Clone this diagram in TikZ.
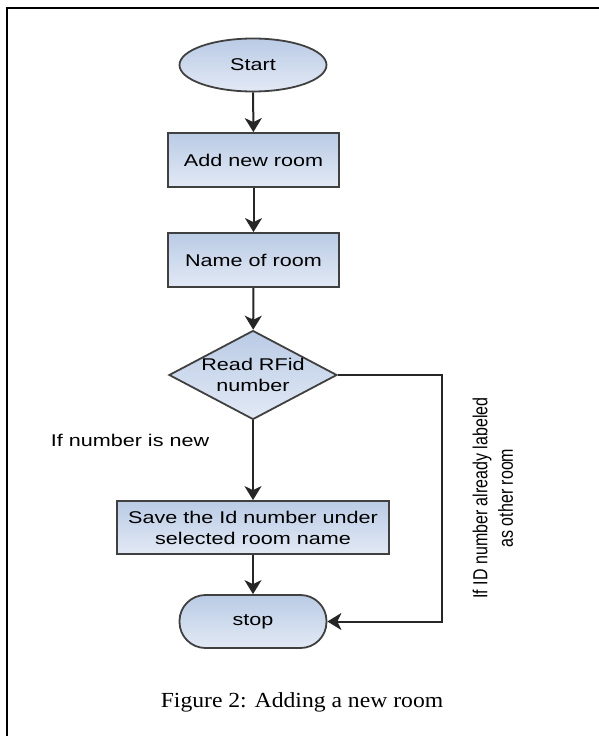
\documentclass[tikz,border=0pt]{standalone}
\usepackage{fontspec}
\usetikzlibrary{shapes.geometric,arrows.meta}
\newfontfamily\flowfont{Liberation Sans}[FakeStretch=1.27]
\newfontfamily\sidefont{Liberation Sans}
\newfontfamily\capfont{Liberation Serif}[FakeStretch=1.1]
\definecolor{feldoben}{RGB}{186,203,229}
\definecolor{feldunten}{RGB}{226,233,245}

\tikzset{
  feld/.style={draw=black!75, line width=1.8pt, top color=feldoben, bottom color=feldunten,
    font=\flowfont\fontsize{17}{21}\selectfont, align=center, inner sep=0pt},
  kasten/.style={feld, rectangle, minimum width=171pt, minimum height=54pt},
  pfeil/.style={draw=black!85, line width=2pt, -{Stealth[length=14pt, width=17pt, inset=4pt]}},
}

\begin{document}
\begin{tikzpicture}[x=1pt, y=-1pt]
  \useasboundingbox (0,0) rectangle (598,736);
  % Rahmen
  \draw[line width=2.4pt] (7,740) -- (7,8) -- (602,8);

  \node[feld, ellipse, minimum width=147pt, minimum height=53pt] (start) at (253,65) {Start};
  \node[kasten] (neu) at (253.5,160) {Add new room};
  \node[kasten] (name) at (253.5,260) {Name of room};
  \node[feld, diamond, aspect=1.89, minimum width=168pt, minimum height=89pt] (rfid) at (253,375) {Read RFid\\number};
  \node[kasten, minimum width=272pt, minimum height=53pt] (save) at (253,527.5)
    {Save the Id number under\\selected room name};
  \node[feld, rectangle, rounded corners=26pt, minimum width=147pt, minimum height=53pt] (stop) at (253,621.5) {stop};

  \draw[pfeil] (start) -- (neu);
  \draw[pfeil] (neu) -- (name);
  \draw[pfeil] (name) -- (rfid);
  \draw[pfeil] (rfid) -- (save);
  \draw[pfeil] (save) -- (stop);

  % Verzweigung
  \coordinate (knick) at (442,621.5);
  \draw[pfeil] (rfid.east) -| (knick) -- (stop.east);

  \node[font=\flowfont\fontsize{17}{21}\selectfont] (neuLbl) at (130,440) {If number is new};
  \node[rotate=90, font=\sidefont\fontsize{16}{20}\selectfont] (altLbl) at (495,498)
    {\scalebox{1}[1.27]{\begin{tabular}{@{}c@{}}If ID number already labeled\\as other room\end{tabular}}};

  \node[font=\capfont\fontsize{21.5}{26}\selectfont] (cap) at (302,702) {Figure 2: Adding a new room};
\end{tikzpicture}
\end{document}
